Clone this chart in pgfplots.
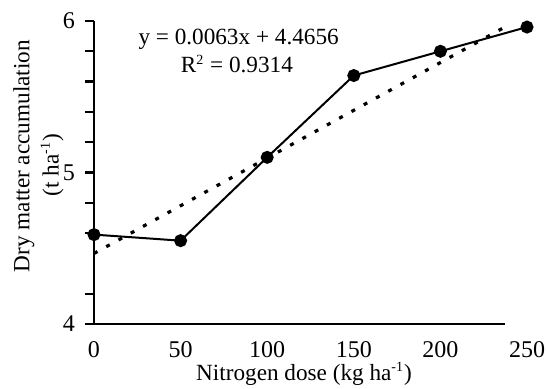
\documentclass[border=0pt]{standalone}
\usepackage{pgfplots}
\pgfplotsset{compat=1.18}
\usepackage{fontspec}
\setmainfont{Liberation Serif}
\begin{document}
\fontsize{11.6}{13.5}\selectfont
\begin{tikzpicture}
\begin{axis}[
  name=ax,
  scale only axis,
  width=216.5pt, height=151.5pt,
  xmin=0, xmax=250, ymin=4, ymax=6,
  axis lines=left,
  axis line style={-, line width=1.1pt},
  x axis line style={draw=none},
  xtick={0,50,100,150,200,250},
  ytick={4,5,6},
  minor ytick={4.2,4.6,4.8,5.2,5.4,5.6,5.8},
  tick align=outside,
  major tick length=4.5pt,
  minor tick length=4.5pt,
  ytick style={line width=1.1pt, black},
  minor tick style={line width=1.1pt, black},
  xtick style={draw=none},
  /pgf/number format/assume math mode=true,
  ticklabel style={font=\fontsize{12}{14}\selectfont},
  xticklabel style={yshift=0pt},
  yticklabel style={xshift=-1pt},
  clip=false,
]
\addplot[black, line width=1.6pt, line cap=butt, dash pattern=on 2pt off 5pt]
  coordinates {(0,4.4656) (237,5.9587)};
\addplot[black, line width=1pt, mark=*, mark size=2.75pt, mark options={solid, fill=black}]
  coordinates {(0,4.59) (50,4.55) (100,5.10) (150,5.64) (200,5.80) (250,5.96)};
\draw[line width=1.1pt] (axis cs:0,4) -- (axis cs:237.3,4);
\node at (axis cs:83.5,5.88) {y = 0.0063x + 4.4656};
\node at (axis cs:82.5,5.715) {R\textsuperscript{\scriptsize 2} = 0.9314};
\node[rotate=90] at (rel axis cs:-0.162,0.554) {Dry matter accumulation};
\node[rotate=90] at (rel axis cs:-0.097,0.525) {(t ha\textsuperscript{\scriptsize -1})};
\node at (rel axis cs:0.485,0) [yshift=-25pt] {Nitrogen dose (kg ha\textsuperscript{\scriptsize -1})};
\end{axis}
\pgfresetboundingbox
\path ([shift={(-47pt,-32.5pt)}]ax.south west) rectangle ([shift={(9.5pt,10.5pt)}]ax.north east);
\end{tikzpicture}
\end{document}
